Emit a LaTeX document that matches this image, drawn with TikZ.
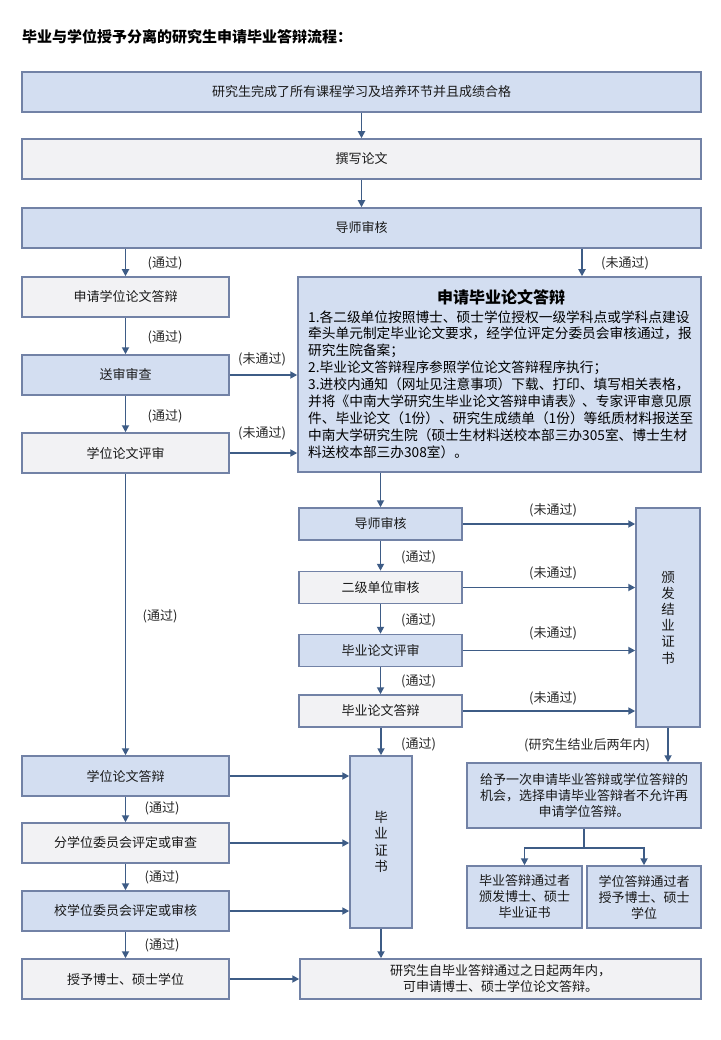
\documentclass[tikz,border=0pt]{standalone}
\usepackage{fontspec}
\setmainfont{Noto Sans CJK SC}
\usetikzlibrary{arrows.meta,calc}
\definecolor{bfill}{HTML}{D3DEF1}
\definecolor{gfill}{HTML}{F2F2F4}
\definecolor{bord}{HTML}{7282A6}
\definecolor{arrc}{HTML}{3E5C86}
\newcommand{\fsz}[2]{\fontsize{#1}{#2}\selectfont}
\begin{document}
\begin{tikzpicture}[x=1pt,y=-1pt,
  boxb/.style={draw=bord, line width=1.5pt, fill=bfill, inner sep=0pt, align=center, text=black!90, font=\fsz{13}{16}},
  boxg/.style={boxb, fill=gfill},
  arr/.style={draw=arrc, line width=1.8pt, -{Triangle[width=7pt,length=7pt]}},
  lnk/.style={draw=arrc, line width=1.8pt},
  lab/.style={font=\fsz{13}{16}, inner sep=0pt, text=black!85},
]
\useasboundingbox (0,0) rectangle (720,1040);

\node[anchor=west, inner sep=0pt, font=\fsz{15}{18}\bfseries] (title) at (22,37) {毕业与学位授予分离的研究生申请毕业答辩流程：};

% top boxes
\node[boxb, minimum width=679pt, minimum height=40pt] (t1) at (361.5,92) {研究生完成了所有课程学习及培养环节并且成绩合格};
\node[boxg, minimum width=679pt, minimum height=40pt] (t2) at (361.5,159) {撰写论文};
\node[boxb, minimum width=679pt, minimum height=40pt] (t3) at (361.5,228) {导师审核};

% left column upper
\node[boxg, minimum width=207pt, minimum height=40pt] (apply) at (125.5,297) {申请学位论文答辩};
\node[boxb, minimum width=207pt, minimum height=40pt] (sent) at (125.5,375) {送审审查};
\node[boxg, minimum width=207pt, minimum height=40pt] (eval) at (125.5,453) {学位论文评审};

% big box
\node[boxb, minimum width=403pt, minimum height=195pt] (big) at (499.5,374.5) {};
\node[inner sep=0pt, font=\fsz{16}{18}\bfseries] (bigtitle) at (501,297) {申请毕业论文答辩};
\node[inner sep=0pt, anchor=west, align=left, font=\fsz{13.7}{16.9}] (bigtext) at (308,384.5) {1.各二级单位按照博士、硕士学位授权一级学科点或学科点建设\\牵头单元制定毕业论文要求，经学位评定分委员会审核通过，报\\研究生院备案；\\2.毕业论文答辩程序参照学位论文答辩程序执行；\\3.进校内通知（网址见注意事项）下载、打印、填写相关表格，\\并将《中南大学研究生毕业论文答辩申请表》、专家评审意见原\\件、毕业论文（1份）、研究生成绩单（1份）等纸质材料报送至\\中南大学研究生院（硕士生材料送校本部三办305室、博士生材\\料送校本部三办308室）。};

% middle column
\node[boxb, minimum width=163pt, minimum height=32pt] (m1) at (380.5,524) {导师审核};
\node[boxg, minimum width=163pt, minimum height=32pt] (m2) at (380.5,587.5) {二级单位审核};
\node[boxb, minimum width=163pt, minimum height=32pt] (m3) at (380.5,650.5) {毕业论文评审};
\node[boxg, minimum width=163pt, minimum height=32pt] (m4) at (380.5,711) {毕业论文答辩};

% right column
\node[boxb, minimum width=64pt, minimum height=219pt, font=\fsz{13.5}{16.2}] (jy) at (668,617.5) {颁\\发\\结\\业\\证\\书};
\node[boxb, minimum width=234pt, minimum height=65pt] (give) at (584,795.5) {给予一次申请毕业答辩或学位答辩的\\机会，选择申请毕业答辩者不允许再\\申请学位答辩。};
\node[boxb, minimum width=115pt, minimum height=62pt] (b1) at (524.5,897) {毕业答辩通过者\\颁发博士、硕士\\毕业证书};
\node[boxb, minimum width=114pt, minimum height=62pt] (b2) at (644,897) {学位答辩通过者\\授予博士、硕士\\学位};

% left column lower
\node[boxb, minimum width=207pt, minimum height=40pt] (L1) at (125.5,776) {学位论文答辩};
\node[boxg, minimum width=207pt, minimum height=40pt] (L2) at (125.5,843) {分学位委员会评定或审查};
\node[boxb, minimum width=207pt, minimum height=40pt] (L3) at (125.5,911) {校学位委员会评定或审核};
\node[boxg, minimum width=207pt, minimum height=40pt] (L4) at (125.5,979) {授予博士、硕士学位};

% certificate + final
\node[boxb, minimum width=62pt, minimum height=172pt, font=\fsz{13.5}{16.3}] (cert) at (381,842) {毕\\业\\证\\书};
\node[boxg, minimum width=401pt, minimum height=40pt] (final) at (500.5,979) {研究生自毕业答辩通过之日起两年内，\\可申请博士、硕士学位论文答辩。};

% arrows top
\draw[arr] (t1.south) -- (t2.north);
\draw[arr] (t2.south) -- (t3.north);
\draw[arr] (apply.north |- t3.south) -- (apply.north);
\draw[arr] ([xshift=82.5pt]big.north |- t3.south) -- ([xshift=82.5pt]big.north);
\draw[arr] (apply.south) -- (sent.north);
\draw[arr] (sent.south) -- (eval.north);
\draw[arr] (sent.east) -- (big.west |- sent.east);
\draw[arr] (eval.east) -- (big.west |- eval.east);
\draw[arr] (eval.south) -- (L1.north);

% middle arrows
\draw[arr] (m1.north |- big.south) -- (m1.north);
\draw[arr] (m1.south) -- (m2.north);
\draw[arr] (m2.south) -- (m3.north);
\draw[arr] (m3.south) -- (m4.north);
\draw[arr] (m1.east) -- (jy.west |- m1.east);
\draw[arr] (m2.east) -- (jy.west |- m2.east);
\draw[arr] (m3.east) -- (jy.west |- m3.east);
\draw[arr] (m4.east) -- (jy.west |- m4.east);
\draw[arr] (cert.north |- m4.south) -- (cert.north);

% right arrows
\draw[arr] (jy.south) -- (jy.south |- give.north);
\coordinate (split) at ($(give.south)+(0,19)$);
\draw[lnk] (give.south) -- (split);
\draw[arr] (split) -| (b1.north);
\draw[arr] (split) -| (b2.north);

% left lower arrows
\draw[arr] (L1.south) -- (L2.north);
\draw[arr] (L2.south) -- (L3.north);
\draw[arr] (L3.south) -- (L4.north);
\draw[arr] (L1.east) -- (cert.west |- L1.east);
\draw[arr] (L2.east) -- (cert.west |- L2.east);
\draw[arr] (L3.east) -- (cert.west |- L3.east);
\draw[arr] (cert.south) -- (cert.south |- final.north);
\draw[arr] (L4.east) -- (final.west |- L4.east);

% labels
\node[lab] (p1) at (165,263) {(通过)};
\node[lab] (f1) at (625,263) {(未通过)};
\node[lab] (p2) at (165,337) {(通过)};
\node[lab] (f2) at (262,359) {(未通过)};
\node[lab] (p3) at (165,416) {(通过)};
\node[lab] (f3) at (262,433) {(未通过)};
\node[lab] (p4) at (160,616) {(通过)};
\node[lab] (pm1) at (418.5,557) {(通过)};
\node[lab] (pm2) at (418.5,620) {(通过)};
\node[lab] (pm3) at (418.5,681) {(通过)};
\node[lab] (pm4) at (418.5,744) {(通过)};
\node[lab] (fm1) at (553,510) {(未通过)};
\node[lab] (fm2) at (553,573) {(未通过)};
\node[lab] (fm3) at (553,633) {(未通过)};
\node[lab] (fm4) at (553,698) {(未通过)};
\node[lab] (jyl) at (587,745) {(研究生结业后两年内)};
\node[lab] (pl1) at (162,808) {(通过)};
\node[lab] (pl2) at (162,877) {(通过)};
\node[lab] (pl3) at (162,945) {(通过)};
\end{tikzpicture}
\end{document}
